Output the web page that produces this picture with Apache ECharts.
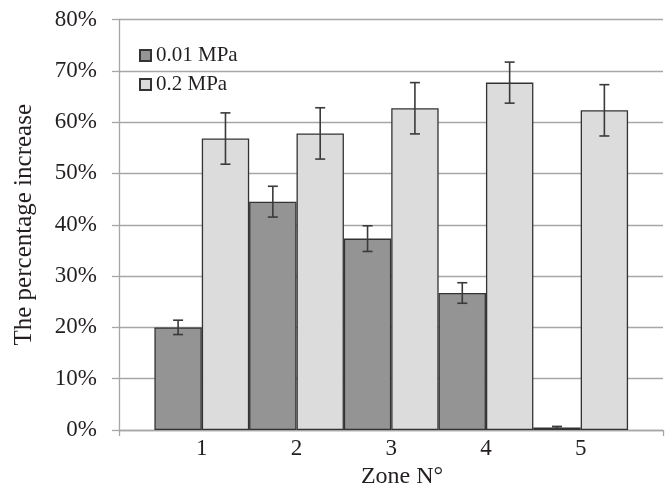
<!DOCTYPE html>
<html>
<head>
<meta charset="utf-8">
<script src="https://cdn.jsdelivr.net/npm/echarts@6/dist/echarts.min.js"></script>
<style>
html,body{margin:0;padding:0;background:#fff;}
#chart{width:670px;height:487px;}
</style>
</head>
<body>
<div id="chart"></div>
<script>
// Data (percent values)
const zones = [1, 2, 3, 4, 5];
const seriesNames = ['0.01 MPa', '0.2 MPa'];
const low = [20.0, 44.5, 37.3, 26.7, 0.5];
const lowErr = [1.4, 3.0, 2.5, 2.0, 0.2];
const high = [56.8, 57.8, 62.7, 67.7, 62.3];
const highErr = [5.0, 5.0, 5.0, 4.0, 5.0];
const yTicks = [0, 10, 20, 30, 40, 50, 60, 70, 80];

const FONT = '"Liberation Serif", "Times New Roman", serif';
const TXT = '#231f20';
const GRIDC = '#a6a6a6';
const xMin = 0.126, xMax = 5.869;

const chart = echarts.init(document.getElementById('chart'), null, {renderer: 'canvas'});

function errSeries(vals, errs, offset) {
  return {
    type: 'custom',
    silent: true,
    z: 5,
    data: zones.map((z, i) => [z, vals[i], errs[i]]),
    renderItem: function (params, api) {
      const x = api.value(0) + offset;
      const v = api.value(1), e = api.value(2);
      const top = api.coord([x, v + e]);
      const bot = api.coord([x, v - e]);
      const cap = 5;
      const style = {stroke: '#3a3a3a', lineWidth: 1.6, fill: null};
      return {
        type: 'group',
        children: [
          {type: 'line', shape: {x1: top[0], y1: top[1], x2: bot[0], y2: bot[1]}, style: style},
          {type: 'line', shape: {x1: top[0] - cap, y1: top[1], x2: top[0] + cap, y2: top[1]}, style: style},
          {type: 'line', shape: {x1: bot[0] - cap, y1: bot[1], x2: bot[0] + cap, y2: bot[1]}, style: style}
        ]
      };
    }
  };
}

chart.setOption({
  animation: false,
  backgroundColor: '#ffffff',
  textStyle: {fontFamily: FONT, color: TXT},
  grid: {left: 119, right: 7, top: 19.5, bottom: 57, containLabel: false, outerBoundsMode: 'none'},
  legend: {
    orient: 'vertical',
    left: 134,
    top: 40,
    itemWidth: 11,
    itemHeight: 11,
    itemGap: 8,
    icon: 'rect',
    textStyle: {fontFamily: FONT, fontSize: 21, color: TXT},
    data: seriesNames
  },
  xAxis: {
    type: 'value',
    min: xMin,
    max: xMax,
    name: 'Zone N°',
    nameLocation: 'middle',
    nameGap: 30,
    nameTextStyle: {fontFamily: FONT, fontSize: 24, color: TXT, padding: [0, 0, 0, 22]},
    axisLine: {show: true, onZero: false, lineStyle: {color: GRIDC, width: 1.3}},
    axisTick: {show: true, length: 6, customValues: [xMin, xMax], lineStyle: {color: GRIDC, width: 1.3}},
    axisLabel: {customValues: zones, fontFamily: FONT, fontSize: 23, color: TXT, margin: 7,
      formatter: v => String(v)},
    splitLine: {show: false}
  },
  yAxis: {
    type: 'value',
    min: 0,
    max: 80,
    interval: 10,
    name: 'The percentage increase',
    nameLocation: 'middle',
    nameGap: 82,
    nameTextStyle: {fontFamily: FONT, fontSize: 25, color: TXT},
    axisLine: {show: true, lineStyle: {color: GRIDC, width: 1.3}},
    axisTick: {show: true, length: 7, lineStyle: {color: GRIDC, width: 1.3}},
    axisLabel: {fontFamily: FONT, fontSize: 23, color: TXT, margin: 22,
      formatter: v => (yTicks.indexOf(v) >= 0 ? v + '%' : '')},
    splitLine: {show: true, lineStyle: {color: GRIDC, width: 1.3}}
  },
  series: [
    {
      name: seriesNames[0],
      type: 'bar',
      barWidth: 47.4,
      barGap: '0%',
      data: zones.map((z, i) => [z, low[i]]),
      itemStyle: {color: '#949494', borderColor: '#333333', borderWidth: 1.3}
    },
    {
      name: seriesNames[1],
      type: 'bar',
      barWidth: 47.4,
      barGap: '0%',
      data: zones.map((z, i) => [z, high[i]]),
      itemStyle: {color: '#dcdcdc', borderColor: '#333333', borderWidth: 1.3}
    },
    errSeries(low, lowErr, -0.25),
    errSeries(high, highErr, 0.25)
  ]
});
</script>
</body>
</html>
